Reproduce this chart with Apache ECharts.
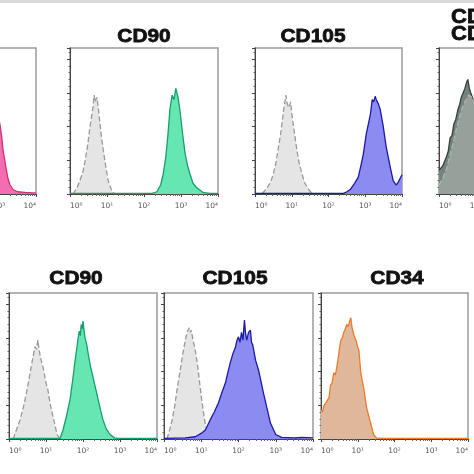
<!DOCTYPE html>
<html><head><meta charset="utf-8">
<script src="https://cdn.jsdelivr.net/npm/echarts@6/dist/echarts.min.js"></script>
<style>html,body{margin:0;padding:0;background:#fff}#c{width:474px;height:474px}</style>
</head><body><div id="c"></div>
<script>
// ---- Data (x in log10 units of fluorescence, y = event count) ----
const decadeTicks = [0, 1, 2, 3, 4];
const decadeLabels = ['10\u2070', '10\u00b9', '10\u00b2', '10\u00b3', '10\u2074'];
const panelTitles = ['CD73', 'CD90', 'CD105', 'CD14/CD19\nCD34/CD45', 'CD90', 'CD105', 'CD34'];

const topPinkSample = [[0,0.5],[1.8,0.5],[2.0,1],[2.2,5],[2.4,20],[2.55,45],[2.65,70],[2.75,88],[2.8,95],[2.85,90],[2.9,92],[2.95,80],[3.0,66],[3.03,61],[3.07,52],[3.11,39],[3.18,25],[3.24,14],[3.3,8],[3.38,4],[3.5,2],[3.7,1.5],[3.92,1],[4,1]];

const topCD90Ctrl = [[0.08,0],[0.18,5],[0.27,12],[0.35,20],[0.41,30],[0.48,44],[0.54,60],[0.62,77],[0.65,88],[0.68,82],[0.70,84],[0.73,86],[0.78,72],[0.82,60],[0.86,48],[0.95,28],[1.03,12],[1.14,2],[1.22,0]];
const topCD90Sample = [[0,0.5],[2.22,0.5],[2.35,2],[2.45,8],[2.52,18],[2.59,33],[2.65,54],[2.70,75],[2.76,88],[2.81,84],[2.86,94],[2.89,90],[2.92,86],[2.97,75],[3.03,57],[3.11,36],[3.18,25],[3.24,18],[3.32,10],[3.41,6],[3.59,1.5],[3.78,0.5],[4,0.5]];

const topCD105Ctrl = [[0.19,0.5],[0.3,4],[0.43,11],[0.5,18],[0.57,28],[0.63,40],[0.70,54],[0.78,75],[0.82,83],[0.84,88],[0.88,80],[0.92,77],[0.97,82],[1.0,72],[1.05,60],[1.14,39],[1.2,28],[1.27,19],[1.35,10],[1.46,4],[1.54,1],[1.62,0]];
const topCD105Sample = [[0,0.5],[2.41,0.5],[2.5,2],[2.59,4],[2.7,9],[2.81,15],[2.9,28],[2.95,36],[3.03,54],[3.09,63],[3.14,71],[3.19,84],[3.23,82],[3.27,87],[3.30,84],[3.32,85],[3.36,80],[3.41,75],[3.49,60],[3.57,42],[3.68,24],[3.76,12],[3.84,8],[3.89,10],[3.95,14],[4,17]];

const topNegSample = [[0,21],[0.05,20],[0.1,25],[0.2,33],[0.25,38],[0.3,50],[0.35,52],[0.4,62],[0.45,66],[0.51,75],[0.56,80],[0.6,86],[0.65,90],[0.7,94],[0.75,100],[0.78,102],[0.82,94],[0.86,90],[0.95,82],[1.1,60],[1.3,30],[1.5,10],[1.7,2],[1.9,0.5],[4,0.5]];
const topNegCtrl = [[0,8],[0.1,14],[0.2,22],[0.3,35],[0.4,48],[0.5,62],[0.6,74],[0.7,82],[0.8,88],[0.9,86],[1.0,76],[1.2,48],[1.4,20],[1.6,5],[1.8,0]];

const botCD90Ctrl = [[0.11,0],[0.2,8],[0.30,17],[0.4,30],[0.49,44],[0.55,55],[0.62,68],[0.70,82],[0.74,80],[0.78,88],[0.82,78],[0.87,70],[0.92,64],[1.0,50],[1.05,44],[1.12,30],[1.19,20],[1.3,4],[1.38,0]];
const botCD90Sample = [[0,0.5],[1.38,0.5],[1.46,8],[1.55,20],[1.65,35],[1.72,52],[1.78,68],[1.83,80],[1.86,88],[1.9,96],[1.93,92],[1.95,102],[1.98,98],[2.0,105],[2.03,96],[2.05,91],[2.1,84],[2.14,76],[2.2,65],[2.27,55],[2.34,45],[2.41,35],[2.48,25],[2.54,17],[2.63,9],[2.73,4],[2.85,1],[2.95,0.5],[4,0.5]];

const botCD105Ctrl = [[0.08,0],[0.15,8],[0.22,17],[0.29,30],[0.35,44],[0.42,58],[0.49,73],[0.55,84],[0.59,91],[0.63,96],[0.68,99],[0.71,95],[0.73,97],[0.78,88],[0.84,79],[0.9,66],[0.95,52],[1.0,38],[1.05,26],[1.1,15],[1.16,6],[1.24,0]];
const botCD105Sample = [[0,0.5],[0.57,1],[0.84,2],[1.0,5],[1.11,8],[1.24,17],[1.35,24],[1.46,32],[1.55,41],[1.65,50],[1.72,60],[1.78,68],[1.85,76],[1.92,82],[1.96,88],[2.0,91],[2.04,86],[2.08,95],[2.12,88],[2.16,106],[2.19,94],[2.22,88],[2.27,95],[2.32,97],[2.35,86],[2.38,84],[2.46,70],[2.54,61],[2.6,52],[2.65,44],[2.76,28],[2.86,14],[3.0,4],[3.16,1.5],[3.5,1],[3.7,1.5],[4,1]];

const botCD34Sample = [[0,26],[0.04,24],[0.08,30],[0.15,33],[0.22,37],[0.26,48],[0.3,50],[0.35,59],[0.38,57],[0.41,60],[0.46,70],[0.5,80],[0.54,88],[0.58,90],[0.62,95],[0.66,98],[0.70,102],[0.74,100],[0.78,105],[0.81,108],[0.84,100],[0.86,97],[0.9,92],[0.95,88],[1.0,82],[1.03,79],[1.08,60],[1.12,52],[1.16,46],[1.24,28],[1.35,14],[1.43,4],[1.51,1],[1.7,0.5],[4,0.5]];

// ---- Layout & style ----
const layout = [
  {left:-112, top:48, width:148, height:146},
  {left:70,  top:48, width:148, height:146},
  {left:255, top:48, width:147, height:146},
  {left:439, top:48, width:148, height:146},
  {left:9,   top:293, width:148, height:146},
  {left:164, top:293, width:149, height:146},
  {left:321, top:293, width:147, height:146}
];
const titlePos = [null, {x:144,y:27.5}, {x:313,y:27.5}, {x:451,y:8.5,left:true}, {x:76,y:269.5}, {x:235,y:269.5}, {x:397,y:269.5}];

const C = {
  ctrl:{fill:'#e5e5e5', line:'#999999', dash:'dashed'},
  pink:{fill:'#f36db0', line:'#d0306f'},
  green:{fill:'#66e6b2', line:'#15a06a'},
  blue:{fill:'#8b8bf1', line:'#1a1aa6'},
  dark:{fill:'#75837e', line:'#36403c'},
  ctrl2:{fill:'rgba(190,198,194,0.45)', line:'#aeb4b1', dash:'dashed'},
  orange:{fill:'#dfb79a', line:'#f07a2a'}
};

const panelSeries = [
  [[topPinkSample, C.pink]],
  [[topCD90Ctrl, C.ctrl], [topCD90Sample, C.green]],
  [[topCD105Ctrl, C.ctrl], [topCD105Sample, C.blue]],
  [[topNegSample, C.dark], [topNegCtrl, C.ctrl2]],
  [[botCD90Ctrl, C.ctrl], [botCD90Sample, C.green]],
  [[botCD105Ctrl, C.ctrl], [botCD105Sample, C.blue]],
  [[botCD34Sample, C.orange]]
];

const minorX = [];
for (let d = 0; d < 4; d++) for (let k = 2; k <= 9; k++) minorX.push(d + Math.log10(k));

const grid = [], xAxis = [], yAxis = [], series = [], graphic = [];
graphic.push({type:'rect', shape:{x:0,y:0,width:474,height:3}, style:{fill:'#d9d9d9'}, silent:true});

layout.forEach((g, i) => {
  grid.push(Object.assign({show:true, borderColor:'#9a9a9a', borderWidth:1.5, backgroundColor:'transparent', containLabel:false, outerBoundsMode:'none'}, g));
  xAxis.push({type:'value', gridIndex:i, min:0, max:4, position:'bottom',
    axisLine:{show:true, onZero:false, lineStyle:{color:'#444', width:1}},
    axisTick:{show:true, customValues:decadeTicks, length:3, lineStyle:{color:'#444'}},
    axisLabel:{show:true, customValues:decadeTicks, formatter:v => decadeLabels[Math.round(v)], fontSize:7.5, color:'#555', margin:8,
      fontFamily:'DejaVu Sans', alignMinLabel:'left', alignMaxLabel:'right'},
    splitLine:{show:false}});
  xAxis.push({type:'value', gridIndex:i, min:0, max:4, position:'bottom',
    axisLine:{show:false}, axisTick:{show:true, customValues:minorX, length:2, lineStyle:{color:'#666'}},
    axisLabel:{show:false}, splitLine:{show:false}});
  yAxis.push({type:'value', gridIndex:i, min:0, max:130, interval:30,
    axisLine:{show:true, onZero:false, lineStyle:{color:'#444', width:1}},
    axisTick:{show:true, length:3, lineStyle:{color:'#444'}},
    minorTick:{show:true, splitNumber:5, length:1.5, lineStyle:{color:'#666'}},
    axisLabel:{show:false}, splitLine:{show:false}});
  panelSeries[i].forEach(([data, st], j) => {
    series.push({type:'line', xAxisIndex:2*i, yAxisIndex:i, data:data, symbol:'none', showSymbol:false,
      smooth:false, silent:true, z:2+j,
      lineStyle:{color:st.line, width:1.3, type:st.dash || 'solid'},
      areaStyle:{color:st.fill, opacity:1}});
  });
  const tp = titlePos[i];
  if (tp) {
    const two = panelTitles[i].indexOf('\n') >= 0;
    graphic.push({type:'text', x:tp.x, y:tp.y, scaleX:1.1, silent:true,
      style:{text:panelTitles[i], font:'bold ' + (two ? 20 : 19) + 'px "Liberation Sans", Arial, sans-serif',
        fill:'#111', stroke:'#111', lineWidth:0.8, align: tp.left ? 'left' : 'center', textAlign: tp.left ? 'left' : 'center',
        verticalAlign:'top', textVerticalAlign:'top', lineHeight: two ? 17 : 19}});
  }
});

const chart = echarts.init(document.getElementById('c'), null, {renderer:'canvas'});
chart.setOption({animation:false, backgroundColor:'#fff', grid, xAxis, yAxis, series, graphic});
</script></body></html>
